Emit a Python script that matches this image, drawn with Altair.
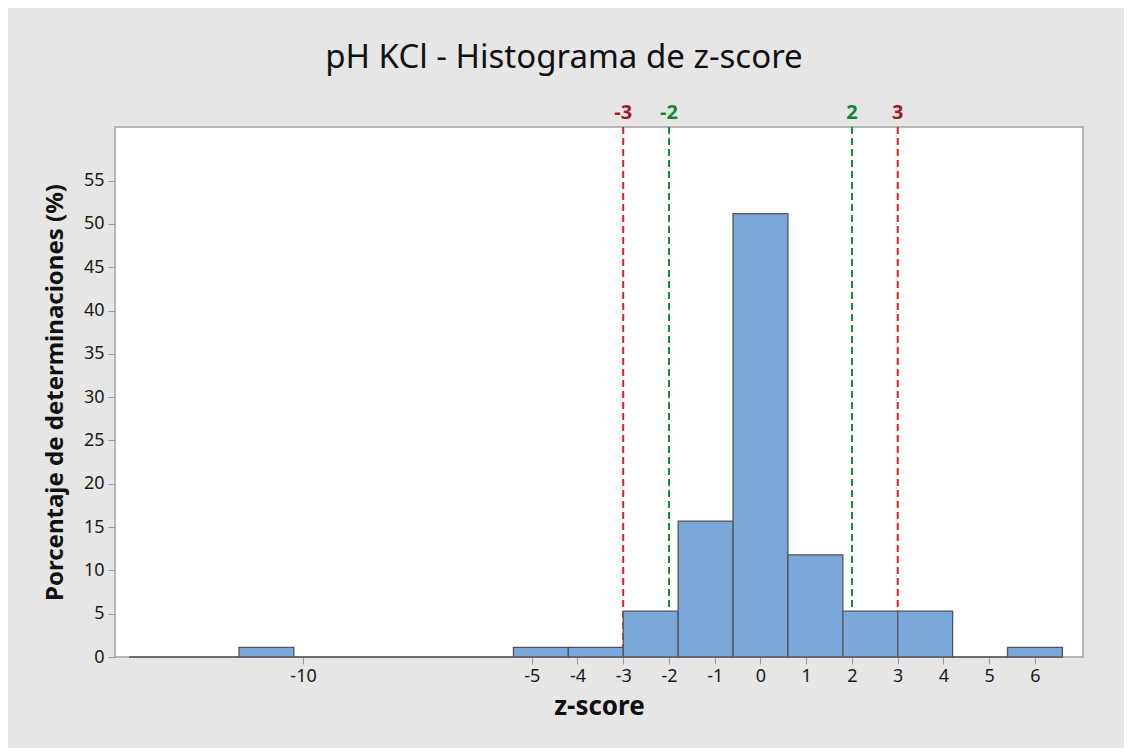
import altair as alt
import pandas as pd

# Histogram bins (width 1.2) : left edges, right edges and percentages
bin_start = [-13.8, -12.6, -11.4, -10.2, -9.0, -7.8, -6.6, -5.4, -4.2, -3.0,
             -1.8, -0.6, 0.6, 1.8, 3.0, 4.2, 5.4]
bin_end = [-12.6, -11.4, -10.2, -9.0, -7.8, -6.6, -5.4, -4.2, -3.0, -1.8,
           -0.6, 0.6, 1.8, 3.0, 4.2, 5.4, 6.6]
percent = [0, 0, 1.1, 0, 0, 0, 0, 1.1, 1.1, 5.3,
           15.7, 51.2, 11.8, 5.3, 5.3, 0, 1.1]

ref_values = [-3, -2, 2, 3]
ref_labels = ["-3", "-2", "2", "3"]
ref_kind = ["lim3", "lim2", "lim2", "lim3"]

x_ticks = [-10, -5, -4, -3, -2, -1, 0, 1, 2, 3, 4, 5, 6]
y_ticks = [0, 5, 10, 15, 20, 25, 30, 35, 40, 45, 50, 55]

bars = pd.DataFrame({"start": bin_start, "end": bin_end, "pct": percent})
refs = pd.DataFrame({"z": ref_values, "label": ref_labels, "kind": ref_kind})

FONT = "Noto Sans"

x_scale = alt.Scale(domain=[-14.11, 7.05], nice=False, zero=False)
y_scale = alt.Scale(domain=[0, 61.2], nice=False)

line_colors = alt.Scale(domain=["lim3", "lim2"], range=["#d81e1e", "#12912e"])
text_colors = alt.Scale(domain=["lim3", "lim2"], range=["#a3162a", "#16862c"])

rules = alt.Chart(refs).mark_rule(strokeDash=[7, 4], strokeWidth=2).encode(
    x=alt.X("z:Q", scale=x_scale),
    y=alt.value(0),
    y2=alt.value(530),
    stroke=alt.Stroke("kind:N", scale=line_colors, legend=None),
)

labels = alt.Chart(refs).mark_text(
    font=FONT, fontSize=20, fontWeight="bold", baseline="bottom", dy=-4
).encode(
    x=alt.X("z:Q", scale=x_scale),
    y=alt.value(0),
    text="label:N",
    fill=alt.Fill("kind:N", scale=text_colors, legend=None),
)

hist = alt.Chart(bars).mark_bar(
    color="#7ba7d9", stroke="#50555c", strokeWidth=1.3, binSpacing=0
).encode(
    x=alt.X(
        "start:Q",
        scale=x_scale,
        axis=alt.Axis(
            values=x_ticks,
            title="z-score",
            labelExpr="datum.value + ''",
            domain=False,
            grid=False,
            tickColor="#9a9a9a",
            tickSize=7,
            labelPadding=3,
            titlePadding=8,
            titleFontSize=26,
        ),
    ),
    x2="end:Q",
    y=alt.Y(
        "pct:Q",
        scale=y_scale,
        axis=alt.Axis(
            values=y_ticks,
            title="Porcentaje de determinaciones (%)",
            domain=False,
            grid=False,
            tickColor="#9a9a9a",
            tickSize=7,
            labelPadding=4,
            titlePadding=16,
            titleFontSize=24,
        ),
    ),
    y2=alt.datum(0),
)

chart = (
    alt.layer(rules, labels, hist)
    .resolve_scale(color="independent")
    .properties(
        width=968,
        height=530,
        autosize=alt.AutoSizeParams(type="none"),
        padding={"left": 107, "top": 119, "right": 41, "bottom": 91},
        background="#e6e6e6",
        title=alt.TitleParams(
            "pH KCl - Histograma de z-score",
            font=FONT,
            fontSize=33,
            fontWeight="normal",
            color="#111111",
            anchor="middle",
            offset=28,
            dx=-35,
        ),
    )
    .configure_view(stroke="#a3a3a3", strokeWidth=1.5, fill="white")
    .configure_axis(
        labelFont=FONT,
        labelFontSize=18,
        labelColor="#1a1a1a",
        titleFont=FONT,
        titleFontWeight="bold",
        titleColor="#111111",
    )
)

chart.save("out.html", embed_options={"renderer": "svg", "actions": False})
